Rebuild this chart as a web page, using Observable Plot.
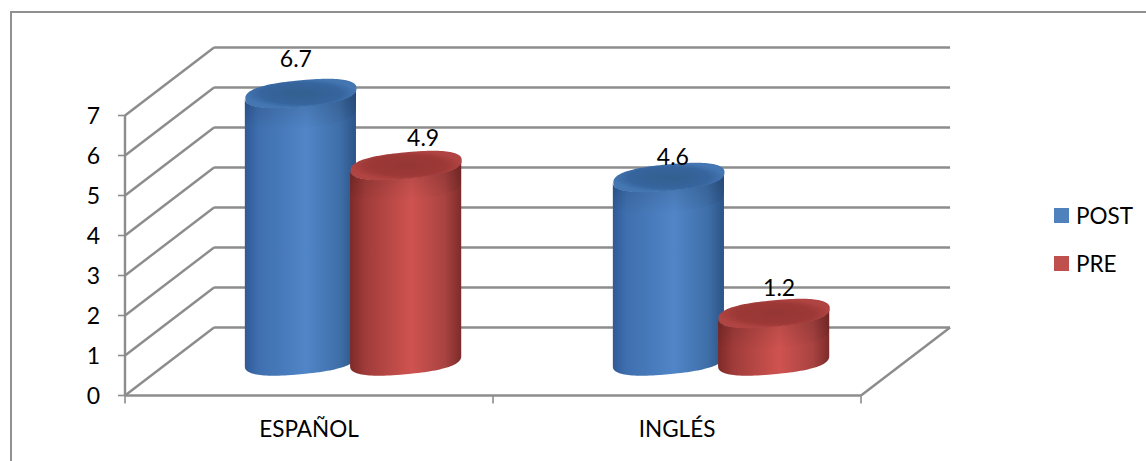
<!DOCTYPE html>
<html><head><meta charset="utf-8">
<script src="https://cdn.jsdelivr.net/npm/d3@7"></script>
<script src="https://cdn.jsdelivr.net/npm/@observablehq/plot@0.6"></script>
<style>
html,body{margin:0;padding:0;background:#fff;width:1146px;height:461px;overflow:hidden}
#chart{position:relative;width:1146px;height:461px;font-family:Lato,"Open Sans",sans-serif;color:#000;overflow:hidden}
#frame{position:absolute;left:10px;top:11px;right:-10px;bottom:-10px;border:2px solid #909090;box-sizing:border-box}
#legend{position:absolute;left:1054px;top:191px;font-size:22.5px}
#legend div{display:flex;align-items:center;height:48px}
#legend span{display:inline-block;width:15px;height:15px;margin-right:7px;position:relative;top:0}
svg{position:absolute;left:0;top:0}
</style></head><body><div id="chart"><div id="frame"></div><div id="legend"></div></div>
<script>
const categories = ["ESPAÑOL", "INGLÉS"];
const series = ["POST", "PRE"];
const postValues = [6.7, 4.6];
const preValues = [4.9, 1.2];
const yTicks = [0, 1, 2, 3, 4, 5, 6, 7];
const xTicks = [0, 1, 2];
const legendColors = ["#4f81bd", "#c0504d"];

// pseudo-3D projection, in scale units
const depthX = 0.242, depthY = 1.7;
const halfWidth = 0.151, groupOffset = 0.143;
const tiltY = 0.125, bulgeY = 0.33, roundness = 0.8;
const tickX = 0.019, tickY = 0.2;
const topShade = 0.55;

const bars = categories.flatMap((c, i) => [
  {cat: c, i, s: "POST", v: postValues[i], cx: i + 0.5 + depthX / 2 - groupOffset},
  {cat: c, i, s: "PRE", v: preValues[i], cx: i + 0.5 + depthX / 2 + groupOffset}
]);
const baseY = depthY / 2;
const spow = v => Math.sign(v) * Math.pow(Math.abs(v), roundness);
const rimX = (b, t) => b.cx + halfWidth * spow(Math.cos(t));
const rimY = (level, t) => level + tiltY * spow(Math.cos(t)) + bulgeY * spow(Math.sin(t));
const ellipse = (b, level) => d3.range(0, 121).map(k => {
  const t = k / 120 * 2 * Math.PI;
  return {x: rimX(b, t), y: rimY(level, t)};
});
const band = (b, from, to) => d3.range(0, 61).map(k => {
  const t = -k / 60 * Math.PI;
  return {x: rimX(b, t), y1: rimY(from, t), y2: rimY(to, t)};
});
const labelNudge = {
  "ESPAÑOL POST": [-5, -34], "ESPAÑOL PRE": [17, -27],
  "INGLÉS POST": [4, -20], "INGLÉS PRE": [5, -25]
};
const gridColor = "#8c8c8c", gridWidth = 2.4;

function defs() {
  const ns = "http://www.w3.org/2000/svg";
  const d = document.createElementNS(ns, "defs");
  const grad = (id, stops, tag = "linearGradient", attrs = {x1: 0, y1: 0, x2: 1, y2: 0}) => {
    const g = document.createElementNS(ns, tag);
    g.setAttribute("id", id);
    Object.entries(attrs).forEach(([k, v]) => g.setAttribute(k, v));
    stops.forEach(([o, c, a = 1]) => {
      const st = document.createElementNS(ns, "stop");
      st.setAttribute("offset", o); st.setAttribute("stop-color", c); st.setAttribute("stop-opacity", a);
      g.appendChild(st);
    });
    d.appendChild(g);
  };
  grad("bodyPOST", [[0, "#2f5a97"], [0.12, "#3f6fae"], [0.55, "#5085c7"], [0.85, "#3f6fa9"], [1, "#2c5488"]]);
  grad("bodyPRE", [[0, "#7e2a28"], [0.14, "#a03c3a"], [0.55, "#cf5350"], [0.85, "#a94341"], [1, "#7d2c2a"]]);
  const radial = {cx: 0.5, cy: 0.5, r: 0.5};
  grad("capPOST", [[0, "#33608f"], [0.72, "#36649d"], [1, "#4476b2"]], "radialGradient", radial);
  grad("capPRE", [[0, "#953634"], [0.72, "#9d3937"], [1, "#b04442"]], "radialGradient", radial);
  grad("shadeTop", [[0, "#000", 0.16], [1, "#000", 0]], "linearGradient", {x1: 0, y1: 0, x2: 0, y2: 1});
  return d;
}

const marks = [
  () => defs(),
  Plot.link(yTicks, {x1: () => depthX, y1: d => d + depthY, x2: () => 2 + depthX, y2: d => d + depthY, stroke: gridColor, strokeWidth: gridWidth}),
  Plot.link(yTicks, {x1: () => 0, y1: d => d, x2: () => depthX, y2: d => d + depthY, stroke: gridColor, strokeWidth: gridWidth}),
  Plot.link([0], {x1: () => 2, y1: () => 0, x2: () => 2 + depthX, y2: () => depthY, stroke: gridColor, strokeWidth: gridWidth}),
  Plot.link([7], {x1: () => 0, y1: () => 0, x2: () => 0, y2: d => d, stroke: gridColor, strokeWidth: gridWidth}),
  Plot.link([2], {x1: () => 0, y1: () => 0, x2: d => d, y2: () => 0, stroke: gridColor, strokeWidth: gridWidth}),
  Plot.link(yTicks, {x1: () => -tickX, y1: d => d, x2: () => 0, y2: d => d, stroke: gridColor, strokeWidth: 1.6}),
  Plot.link(xTicks, {x1: d => d, y1: () => 0, x2: d => d, y2: () => -tickY, stroke: gridColor, strokeWidth: 1.6}),
  Plot.text(yTicks, {x: () => 0, y: d => d, text: d => String(d), dx: -25, dy: 1, textAnchor: "end", fontSize: 23, fill: "#000"}),
  Plot.text(categories, {x: (d, i) => i + 0.5, y: () => 0, text: d => d, dy: 34, fontSize: 22.5, fill: "#000"}),
  ...bars.flatMap(b => [
    Plot.areaY(band(b, baseY, baseY + b.v), {x: "x", y1: "y1", y2: "y2", fill: `url(#body${b.s})`}),
    Plot.areaY(band(b, baseY + b.v - Math.min(topShade, b.v * 0.5), baseY + b.v), {x: "x", y1: "y1", y2: "y2", fill: "url(#shadeTop)"}),
    Plot.line(ellipse(b, baseY + b.v), {x: "x", y: "y", fill: `url(#cap${b.s})`, stroke: "none"})
  ]),
  ...bars.map(b => Plot.text([b], {
    x: d => d.cx, y: d => baseY + d.v, text: d => d.v.toFixed(1),
    dx: labelNudge[`${b.cat} ${b.s}`][0], dy: labelNudge[`${b.cat} ${b.s}`][1],
    fontSize: 23, fill: "#000"
  }))
];

const plot = Plot.plot({
  width: 1146, height: 461,
  margin: 0,
  style: {background: "transparent", fontFamily: "Lato, 'Open Sans', sans-serif"},
  x: {type: "linear", domain: [0, 2], range: [124.5, 860.5], axis: null},
  y: {type: "linear", domain: [0, 7], range: [395, 115], axis: null},
  marks
});
document.getElementById("chart").appendChild(plot);
const legend = document.getElementById("legend");
series.forEach((s, i) => {
  const row = document.createElement("div");
  const sw = document.createElement("span");
  sw.style.background = legendColors[i];
  row.appendChild(sw);
  row.appendChild(document.createTextNode(s));
  legend.appendChild(row);
});
</script></body></html>
